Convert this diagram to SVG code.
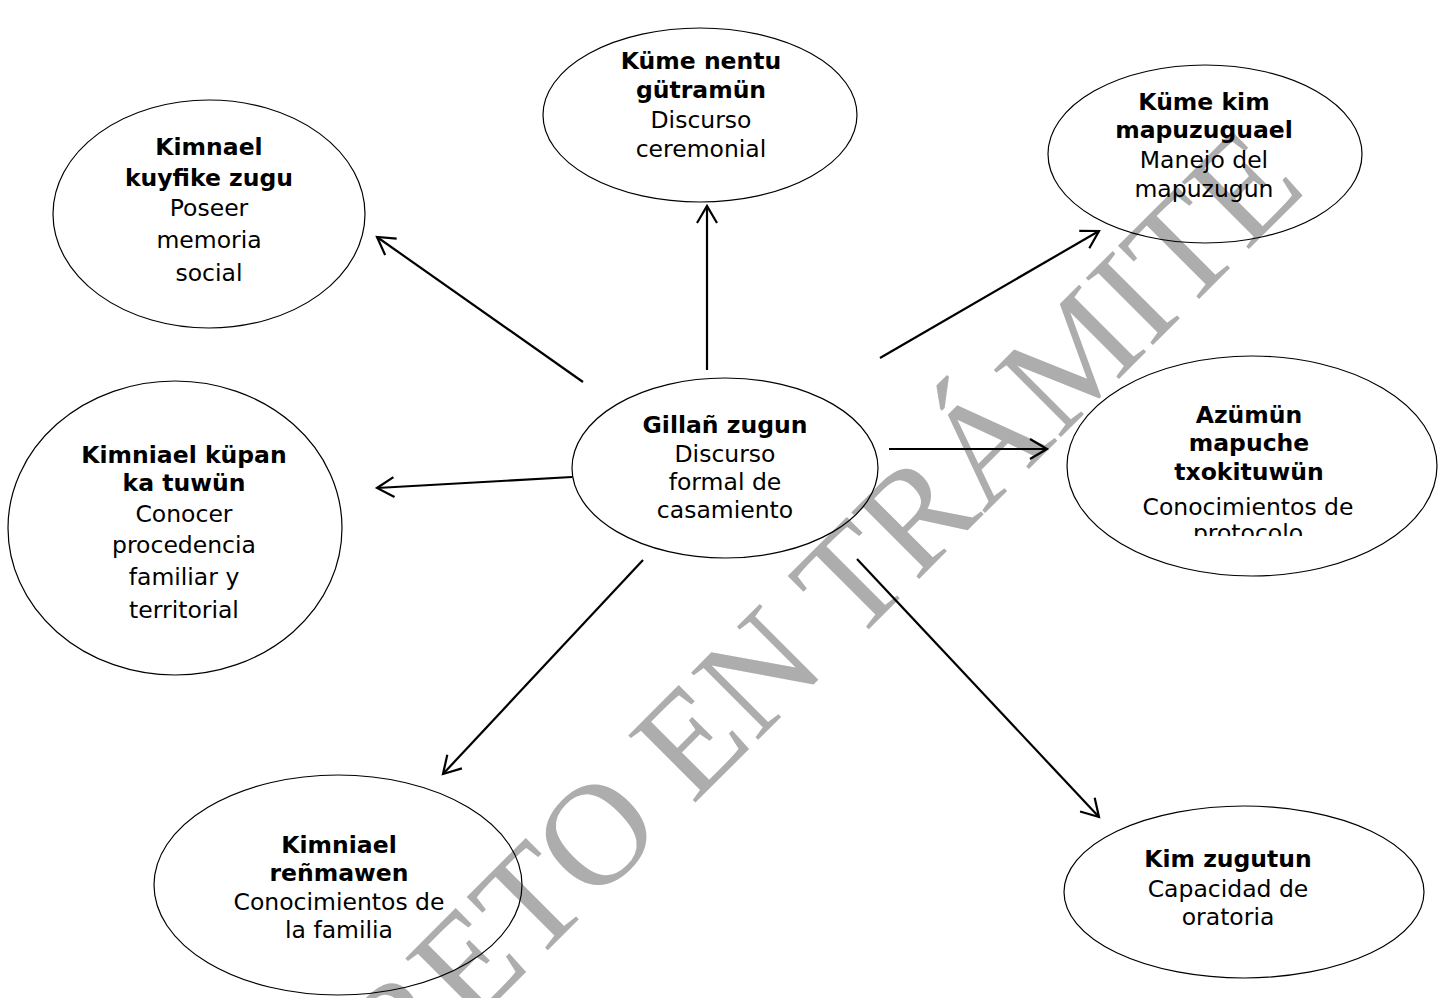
<svg xmlns="http://www.w3.org/2000/svg" width="1445" height="998" viewBox="0 0 1445 998">
<style>
.wm{font-family:"Liberation Serif","Times New Roman",serif;font-size:145px;fill:#adadad}
.node ellipse{fill:none;stroke:#000;stroke-width:1.2}
.node text{font-family:"DejaVu Sans",Verdana,sans-serif;font-size:23.5px;fill:#000;text-anchor:middle}
.b{font-weight:bold}
.conn line{stroke:#000;stroke-width:2.2;fill:none}
</style>
<defs>
<marker id="ah" markerUnits="userSpaceOnUse" markerWidth="30" markerHeight="30" viewBox="-20 -15 25 30" refX="0" refY="0" orient="auto">
<path d="M-17,-10 L0,0 L-17,10" fill="none" stroke="#000" stroke-width="2.2"/>
</marker>
<clipPath id="clipProt"><rect x="1060" y="300" width="385" height="236"/></clipPath>
</defs>
<rect width="1445" height="998" fill="#fff"/>
<text class="wm" transform="translate(196,1302) rotate(-45)">DECRETO EN TRÁMITE</text>

<g id="n-center" class="node">
<ellipse cx="725" cy="468" rx="153" ry="90"/>
<text x="725" y="433" class="b">Gillañ zugun</text>
<text x="725" y="462">Discurso</text>
<text x="725" y="490">formal de</text>
<text x="725" y="518">casamiento</text>
</g>
<g id="n-tl" class="node">
<ellipse cx="209" cy="214" rx="156" ry="114"/>
<text x="209" y="155" class="b">Kimnael</text>
<text x="209" y="186" class="b">kuyfike zugu</text>
<text x="209" y="216">Poseer</text>
<text x="209" y="248">memoria</text>
<text x="209" y="281">social</text>
</g>
<g id="n-top" class="node">
<ellipse cx="700" cy="115" rx="157" ry="87"/>
<text x="701" y="69" class="b">Küme nentu</text>
<text x="701" y="98" class="b">gütramün</text>
<text x="701" y="128">Discurso</text>
<text x="701" y="157">ceremonial</text>
</g>
<g id="n-tr" class="node">
<ellipse cx="1205" cy="154" rx="157" ry="89"/>
<text x="1204" y="110" class="b">Küme kim</text>
<text x="1204" y="138" class="b">mapuzuguael</text>
<text x="1204" y="168">Manejo del</text>
<text x="1204" y="197">mapuzugun</text>
</g>
<g id="n-r" class="node">
<ellipse cx="1252" cy="466" rx="185" ry="110"/>
<text x="1249" y="423" class="b">Azümün</text>
<text x="1249" y="451" class="b">mapuche</text>
<text x="1249" y="480" class="b">txokituwün</text>
<text x="1248" y="515">Conocimientos de</text>
<text x="1248" y="541" clip-path="url(#clipProt)">protocolo</text>
</g>
<g id="n-l" class="node">
<ellipse cx="175" cy="528" rx="167" ry="147"/>
<text x="184" y="463" class="b">Kimniael küpan</text>
<text x="184" y="491" class="b">ka tuwün</text>
<text x="184" y="522">Conocer</text>
<text x="184" y="553">procedencia</text>
<text x="184" y="585">familiar y</text>
<text x="184" y="618">territorial</text>
</g>
<g id="n-bl" class="node">
<ellipse cx="338" cy="885" rx="184" ry="110"/>
<text x="339" y="853" class="b">Kimniael</text>
<text x="339" y="881" class="b">reñmawen</text>
<text x="339" y="910">Conocimientos de</text>
<text x="339" y="938">la familia</text>
</g>
<g id="n-br" class="node">
<ellipse cx="1244" cy="892" rx="180" ry="86"/>
<text x="1228" y="867" class="b">Kim zugutun</text>
<text x="1228" y="897">Capacidad de</text>
<text x="1228" y="925">oratoria</text>
</g>

<g id="connectors" class="conn">
<line x1="583" y1="382" x2="377" y2="237" marker-end="url(#ah)"/>
<line x1="707" y1="370" x2="707" y2="206" marker-end="url(#ah)"/>
<line x1="880" y1="358" x2="1099" y2="231" marker-end="url(#ah)"/>
<line x1="889" y1="449" x2="1047" y2="449" marker-end="url(#ah)"/>
<line x1="572" y1="477" x2="377" y2="488" marker-end="url(#ah)"/>
<line x1="643" y1="560" x2="443" y2="774" marker-end="url(#ah)"/>
<line x1="857" y1="559" x2="1099" y2="817" marker-end="url(#ah)"/>
</g>
</svg>
